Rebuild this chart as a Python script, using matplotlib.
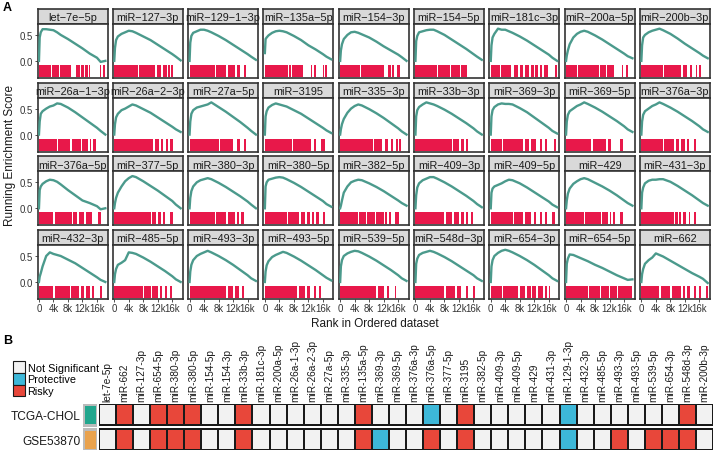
import matplotlib
matplotlib.use("Agg")
import matplotlib.pyplot as plt
import numpy as np
from matplotlib.colors import ListedColormap
from matplotlib.patches import Patch

plt.rcParams["font.family"] = ["Liberation Sans", "DejaVu Sans"]

# ---------------------------------------------------------------------------
# Data (panel A: running enrichment score + hit blocks, panel B: status)
# ---------------------------------------------------------------------------

panel_names = [
    "let-7e-5p", "miR-127-3p", "miR-129-1-3p", "miR-135a-5p", "miR-154-3p",
    "miR-154-5p", "miR-181c-3p", "miR-200a-5p", "miR-200b-3p",
    "miR-26a-1-3p", "miR-26a-2-3p", "miR-27a-5p", "miR-3195", "miR-335-3p",
    "miR-33b-3p", "miR-369-3p", "miR-369-5p", "miR-376a-3p",
    "miR-376a-5p", "miR-377-5p", "miR-380-3p", "miR-380-5p", "miR-382-5p",
    "miR-409-3p", "miR-409-5p", "miR-429", "miR-431-3p",
    "miR-432-3p", "miR-485-5p", "miR-493-3p", "miR-493-5p", "miR-539-5p",
    "miR-548d-3p", "miR-654-3p", "miR-654-5p", "miR-662",
]

# rank positions (thousands) where the running score was read
rank_k = [0, 0.2, 0.5, 1, 2, 3, 4, 5, 6, 8, 10, 12, 14, 16, 17, 18.3]

running_es = [
    [0, 0.45, 0.55, 0.61, 0.61, 0.60, 0.59, 0.55, 0.50, 0.42, 0.33, 0.24, 0.14, 0.06, -0.02, 0.0],
    [0, 0.25, 0.40, 0.47, 0.52, 0.55, 0.58, 0.57, 0.54, 0.47, 0.40, 0.31, 0.22, 0.13, 0.08, 0.01],
    [0, 0.35, 0.48, 0.54, 0.57, 0.60, 0.60, 0.58, 0.55, 0.48, 0.40, 0.31, 0.22, 0.13, 0.08, 0.02],
    [0.15, 0.42, 0.45, 0.49, 0.54, 0.57, 0.58, 0.57, 0.55, 0.48, 0.40, 0.30, 0.22, 0.13, 0.08, 0.03],
    [0, 0.20, 0.32, 0.42, 0.50, 0.55, 0.56, 0.54, 0.51, 0.45, 0.37, 0.28, 0.20, 0.12, 0.07, 0.0],
    [0, 0.38, 0.48, 0.55, 0.57, 0.59, 0.60, 0.60, 0.57, 0.50, 0.41, 0.32, 0.23, 0.13, 0.08, 0.02],
    [0, 0.30, 0.45, 0.52, 0.62, 0.60, 0.60, 0.57, 0.54, 0.47, 0.39, 0.30, 0.21, 0.12, 0.06, 0.0],
    [0, 0.10, 0.20, 0.32, 0.45, 0.52, 0.56, 0.58, 0.56, 0.49, 0.41, 0.32, 0.23, 0.14, 0.09, 0.05],
    [0, 0.30, 0.45, 0.50, 0.55, 0.58, 0.60, 0.62, 0.59, 0.52, 0.43, 0.33, 0.24, 0.15, 0.10, 0.05],
    [0, 0.25, 0.40, 0.45, 0.50, 0.54, 0.56, 0.60, 0.59, 0.52, 0.43, 0.33, 0.23, 0.13, 0.07, 0.0],
    [0, 0.20, 0.33, 0.40, 0.47, 0.50, 0.54, 0.58, 0.56, 0.49, 0.42, 0.33, 0.24, 0.15, 0.10, 0.05],
    [0, 0.25, 0.40, 0.47, 0.52, 0.54, 0.56, 0.58, 0.62, 0.53, 0.44, 0.34, 0.24, 0.13, 0.07, 0.0],
    [0, 0.35, 0.45, 0.52, 0.57, 0.60, 0.58, 0.56, 0.54, 0.47, 0.40, 0.31, 0.22, 0.13, 0.08, 0.03],
    [0, 0.10, 0.20, 0.30, 0.42, 0.50, 0.55, 0.58, 0.56, 0.49, 0.41, 0.32, 0.22, 0.12, 0.06, 0.0],
    [0, 0.35, 0.47, 0.53, 0.58, 0.62, 0.60, 0.58, 0.55, 0.48, 0.40, 0.31, 0.22, 0.12, 0.06, 0.0],
    [0, 0.35, 0.47, 0.53, 0.58, 0.60, 0.59, 0.59, 0.58, 0.51, 0.43, 0.33, 0.23, 0.13, 0.07, 0.02],
    [0, 0.25, 0.38, 0.45, 0.50, 0.55, 0.58, 0.62, 0.59, 0.52, 0.44, 0.35, 0.26, 0.16, 0.10, 0.05],
    [0, 0.25, 0.38, 0.45, 0.50, 0.55, 0.58, 0.62, 0.59, 0.52, 0.44, 0.35, 0.26, 0.16, 0.10, 0.05],
    [0, 0.35, 0.42, 0.47, 0.52, 0.55, 0.54, 0.51, 0.46, 0.35, 0.25, 0.15, 0.10, 0.04, -0.02, 0.0],
    [0, 0.10, 0.20, 0.30, 0.42, 0.52, 0.58, 0.62, 0.60, 0.52, 0.43, 0.34, 0.24, 0.14, 0.07, 0.0],
    [0, 0.20, 0.33, 0.42, 0.50, 0.54, 0.56, 0.58, 0.56, 0.49, 0.41, 0.32, 0.23, 0.13, 0.07, 0.0],
    [0, 0.42, 0.50, 0.55, 0.57, 0.59, 0.60, 0.59, 0.56, 0.49, 0.41, 0.32, 0.23, 0.14, 0.08, 0.03],
    [0, 0.05, 0.15, 0.30, 0.42, 0.50, 0.53, 0.55, 0.54, 0.48, 0.41, 0.33, 0.24, 0.15, 0.10, 0.05],
    [0, 0.25, 0.40, 0.48, 0.54, 0.57, 0.60, 0.60, 0.57, 0.50, 0.42, 0.33, 0.24, 0.14, 0.08, 0.02],
    [0, 0.30, 0.38, 0.42, 0.45, 0.48, 0.52, 0.55, 0.54, 0.48, 0.40, 0.31, 0.22, 0.13, 0.07, 0.02],
    [0, 0.15, 0.28, 0.38, 0.47, 0.52, 0.56, 0.58, 0.56, 0.49, 0.42, 0.34, 0.25, 0.15, 0.10, 0.05],
    [0, 0.30, 0.40, 0.48, 0.53, 0.55, 0.55, 0.56, 0.56, 0.51, 0.43, 0.34, 0.25, 0.15, 0.10, 0.05],
    [0, 0.10, 0.17, 0.30, 0.50, 0.57, 0.54, 0.52, 0.50, 0.43, 0.36, 0.27, 0.18, 0.09, 0.04, 0.0],
    [0, 0.15, 0.25, 0.33, 0.37, 0.42, 0.57, 0.56, 0.54, 0.47, 0.39, 0.30, 0.21, 0.11, 0.05, 0.0],
    [0, 0.20, 0.33, 0.42, 0.50, 0.54, 0.57, 0.60, 0.57, 0.50, 0.42, 0.33, 0.23, 0.13, 0.07, 0.02],
    [0, 0.20, 0.32, 0.40, 0.48, 0.52, 0.55, 0.58, 0.56, 0.49, 0.41, 0.32, 0.23, 0.13, 0.08, 0.03],
    [0, 0.30, 0.42, 0.50, 0.55, 0.58, 0.60, 0.59, 0.56, 0.49, 0.41, 0.32, 0.23, 0.13, 0.07, 0.02],
    [0, 0.35, 0.45, 0.52, 0.56, 0.58, 0.60, 0.58, 0.55, 0.48, 0.40, 0.31, 0.22, 0.13, 0.07, 0.02],
    [0, 0.30, 0.42, 0.50, 0.56, 0.60, 0.62, 0.60, 0.57, 0.50, 0.42, 0.33, 0.23, 0.13, 0.07, 0.02],
    [0, 0.35, 0.45, 0.53, 0.52, 0.49, 0.46, 0.43, 0.40, 0.33, 0.27, 0.20, 0.13, 0.07, 0.04, 0.05],
    [0, 0.15, 0.25, 0.35, 0.42, 0.47, 0.55, 0.52, 0.49, 0.41, 0.33, 0.25, 0.17, 0.10, 0.06, -0.02],
]

# hit blocks along the ranked list, (start, end) in thousands
hit_blocks = [
    [(0, 3.3), (3.5, 5.6), (5.8, 6.5), (6.7, 8.8), (10.1, 11.2), (11.5, 12.5), (12.8, 13.5), (13.8, 14.2), (16.7, 17.2), (17.6, 18.3)],
    [(0, 6.5), (6.7, 11.3), (11.8, 13.0), (13.4, 14.5), (14.9, 15.3), (15.7, 16.2)],
    [(0, 7.0), (7.2, 10.0), (10.5, 12.5), (13.0, 14.0), (15.0, 15.5)],
    [(0, 6.4), (6.7, 7.1), (7.4, 10.6), (12.6, 13.0), (13.6, 14.0), (15.9, 16.3), (16.6, 17.0)],
    [(0, 5.5), (5.8, 12.2), (13.3, 13.9), (14.3, 14.8), (15.7, 16.6)],
    [(0, 6.0), (6.3, 9.5), (9.9, 12.3), (12.6, 14.3)],
    [(0, 2.5), (2.8, 5.5), (6.5, 7.5), (8.0, 9.0), (9.5, 10.5), (11.0, 12.0), (12.3, 13.0), (13.5, 14.2), (14.8, 15.7), (17.8, 18.3)],
    [(0, 3.0), (3.3, 9.0), (9.3, 11.0), (11.4, 13.2), (15.3, 15.7), (16.6, 17.0)],
    [(0, 6.0), (6.3, 10.8), (11.5, 12.5), (13.5, 14.0), (15.0, 15.4), (16.0, 16.4)],
    [(0, 5.0), (5.3, 8.5), (9.0, 11.5), (12.0, 13.5), (14.0, 14.4), (15.0, 15.6)],
    [(0, 10.6), (11.3, 12.3), (13.0, 13.5), (14.3, 14.7), (15.5, 16.2)],
    [(0, 8.0), (8.5, 12.0), (13.0, 14.0), (15.0, 15.5)],
    [(0, 7.5), (7.8, 12.8), (13.5, 14.0), (15.5, 16.5)],
    [(0, 9.0), (9.3, 11.5), (12.5, 13.2), (14.0, 14.5), (15.5, 16.0), (16.3, 16.8)],
    [(0, 10.0), (10.3, 12.0), (12.5, 13.5), (14.0, 14.5)],
    [(0, 3.0), (3.3, 9.0), (9.5, 10.5), (11.0, 12.5), (13.5, 14.0), (15.0, 15.5), (17.5, 18.0)],
    [(0, 7.0), (7.3, 11.0), (11.5, 12.3), (15.0, 15.6)],
    [(0, 6.0), (6.3, 9.0), (9.5, 10.5), (11.0, 12.0), (12.5, 13.0), (14.5, 15.0)],
    [(0, 4.0), (4.5, 9.0), (9.5, 10.5), (11.0, 12.5), (13.0, 14.5), (16.3, 17.0)],
    [(0, 10.0), (10.3, 11.5), (12.0, 13.0), (13.5, 14.0), (15.5, 16.2)],
    [(0, 7.0), (7.3, 10.0), (10.5, 12.5), (13.0, 13.5), (14.3, 15.0)],
    [(0, 6.0), (6.4, 9.5), (10.0, 11.0), (11.5, 12.5), (13.0, 13.6), (14.0, 14.8), (16.0, 16.5)],
    [(0, 5.0), (5.3, 7.0), (7.3, 9.5), (10.0, 12.0), (12.5, 13.0), (13.5, 14.0), (15.0, 16.2)],
    [(0, 8.0), (8.3, 10.0), (10.5, 12.0), (12.5, 13.3), (14.0, 14.5), (15.3, 16.0)],
    [(0, 6.0), (6.3, 9.0), (9.5, 11.0), (12.0, 12.5), (13.5, 14.0), (15.0, 15.5), (17.0, 17.6)],
    [(0, 5.0), (5.3, 9.5), (10.0, 11.5), (12.0, 12.5), (13.0, 13.5), (15.0, 15.6)],
    [(0, 9.0), (9.3, 10.0), (10.5, 11.0), (11.5, 12.3), (13.0, 13.5), (14.5, 15.0)],
    [(0, 4.0), (4.3, 8.5), (8.8, 11.0), (11.5, 12.5), (13.0, 14.0), (14.5, 15.1), (16.8, 17.3)],
    [(0, 8.0), (8.3, 10.0), (10.5, 12.0), (12.5, 13.3), (14.0, 14.5), (15.3, 15.8)],
    [(0, 10.0), (10.5, 12.0), (12.5, 13.5), (14.5, 15.0)],
    [(0, 9.0), (9.5, 11.0), (11.5, 12.5), (13.5, 14.0), (15.0, 15.5)],
    [(0, 10.0), (10.5, 12.0), (13.0, 13.5), (15.0, 15.5)],
    [(0, 8.0), (8.5, 11.0), (11.5, 12.5), (14.0, 14.5), (16.0, 16.5)],
    [(0, 3.0), (3.3, 7.5), (8.0, 9.5), (10.0, 11.0), (11.5, 12.5), (13.0, 14.4), (15.0, 15.5), (16.0, 16.3)],
    [(0, 6.0), (6.4, 9.3), (9.6, 11.8), (12.0, 14.0), (14.3, 18.3)],
    [(0, 5.0), (5.3, 8.0), (8.5, 11.0), (11.5, 12.0), (12.5, 13.3), (14.5, 15.0), (16.0, 16.5), (17.8, 18.3)],
]

heat_mirs = [
    "let-7e-5p", "miR-662", "miR-127-3p", "miR-654-5p", "miR-380-3p", "miR-380-5p",
    "miR-154-5p", "miR-154-3p", "miR-33b-3p", "miR-181c-3p", "miR-200a-5p",
    "miR-26a-1-3p", "miR-26a-2-3p", "miR-27a-5p", "miR-335-3p", "miR-135a-5p",
    "miR-369-3p", "miR-369-5p", "miR-376a-3p", "miR-376a-5p", "miR-377-5p",
    "miR-3195", "miR-382-5p", "miR-409-3p", "miR-409-5p", "miR-429", "miR-431-3p",
    "miR-129-1-3p", "miR-432-3p", "miR-485-5p", "miR-493-3p", "miR-493-5p",
    "miR-539-5p", "miR-654-3p", "miR-548d-3p", "miR-200b-3p",
]
cohorts = ["TCGA-CHOL", "GSE53870"]
status_levels = ["Not Significant", "Protective", "Risky"]
# 0 = Not Significant, 1 = Protective, 2 = Risky
tcga_status = [0, 2, 0, 2, 2, 2, 0, 0, 2, 0, 0, 0, 0, 0, 0, 2, 0, 0,
               0, 1, 0, 2, 0, 0, 0, 0, 0, 1, 0, 0, 0, 0, 0, 0, 2, 0]
gse_status = [0, 2, 0, 2, 2, 2, 0, 0, 2, 0, 0, 0, 0, 0, 0, 2, 1, 0,
              0, 2, 0, 2, 0, 0, 0, 0, 0, 1, 0, 0, 2, 0, 2, 2, 2, 0]

# ---------------------------------------------------------------------------
# Style
# ---------------------------------------------------------------------------

W, H = 715, 452
CURVE = "#4B9A8C"
RUG = "#E8184A"
FRAME = "#333333"
STRIP_BG = "#D9D9D9"
STATUS_COLORS = ["#F2F2F2", "#3DB8D9", "#E8473A"]
COHORT_COLORS = ["#21A68D", "#E9A24D"]

fig = plt.figure(figsize=(W / 100, H / 100), dpi=100)


def px_axes(x0, y0, w, h):
    """Add axes using pixel coords measured from the top-left corner."""
    return fig.add_axes([x0 / W, 1 - (y0 + h) / H, w / W, h / H])


# ---------------------------------------------------------------------------
# Panel A: GSEA facets
# ---------------------------------------------------------------------------

col_x0, col_step, panel_w = 37.5, 75.3, 70
row_y0, row_step, strip_h, plot_h = 10, 73.7, 15, 54

for i, name in enumerate(panel_names):
    r, c = divmod(i, 9)
    x0 = col_x0 + c * col_step
    y0 = row_y0 + r * row_step

    strip = px_axes(x0, y0, panel_w, strip_h)
    strip.set_facecolor(STRIP_BG)
    strip.set_xticks([])
    strip.set_yticks([])
    for s in strip.spines.values():
        s.set_color(FRAME)
        s.set_linewidth(1.2)
    strip.text(0.5, 0.45, name.replace("-", "\u2212"), ha="center", va="center",
               fontsize=7.8, color="#1a1a1a", transform=strip.transAxes,
               clip_on=False)

    ax = px_axes(x0, y0 + strip_h, panel_w, plot_h)
    xs = [k * 1000 for k in rank_k]
    ax.plot(xs, running_es[i], color=CURVE, linewidth=1.7, zorder=3)
    ax.broken_barh([(a * 1000, (b - a) * 1000) for a, b in hit_blocks[i]],
                   (-0.31, 0.23), facecolors=RUG, edgecolor="none", zorder=2)
    ax.set_xlim(-400, 18900)
    ax.set_ylim(-0.33, 0.71)
    ax.set_yticks([0.0, 0.5])
    ax.set_xticks([0, 4000, 8000, 12000, 16000])
    ax.tick_params(length=2, width=0.6, color=FRAME, labelsize=6.9, pad=1,
                   labelcolor="#333333")
    if c == 0:
        ax.set_yticklabels(["0.0", "0.5"])
    else:
        ax.set_yticklabels([])
        ax.tick_params(axis="y", length=0)
    if r == 3:
        ax.set_xticklabels(["0", "4k", "8k", "12k", "16k"])
    else:
        ax.set_xticklabels([])
        ax.tick_params(axis="x", length=0)
    for s in ax.spines.values():
        s.set_color(FRAME)
        s.set_linewidth(1.2)

fig.text(10 / W, 1 - 155 / H, "Running Enrichment Score", rotation=90,
         ha="center", va="center", fontsize=8.5, color="#1a1a1a")
fig.text(375 / W, 1 - 324 / H, "Rank in Ordered dataset",
         ha="center", va="center", fontsize=8.5, color="#1a1a1a")
fig.text(3 / W, 1 - 8 / H, "A", fontsize=9, fontweight="bold", va="center")
fig.text(3 / W, 1 - 341 / H, "B", fontsize=9, fontweight="bold", va="center")

# ---------------------------------------------------------------------------
# Panel B: status heatmap (two rows with a small gap)
# ---------------------------------------------------------------------------

col_edges = np.arange(len(heat_mirs) + 1)
row_tops = [0, 1.2]
row_data = [tcga_status, gse_status]

hm = px_axes(99, 405, 614, 46)
ann = px_axes(83, 405, 14, 46)
for top, vals, k in zip(row_tops, row_data, range(len(cohorts))):
    hm.pcolormesh(col_edges, [top, top + 1], np.array([vals]),
                  cmap=ListedColormap(STATUS_COLORS), vmin=-0.5, vmax=2.5,
                  edgecolors="#1a1a1a", linewidth=1.1)
    ann.pcolormesh([0, 1], [top, top + 1], np.array([[k]]),
                   cmap=ListedColormap(COHORT_COLORS), vmin=-0.5, vmax=1.5,
                   edgecolors="#bbbbbb", linewidth=0.8)

hm.set_xlim(0, len(heat_mirs))
hm.set_ylim(2.2, 0)
hm.xaxis.tick_top()
hm.set_xticks(col_edges[:-1] + 0.5)
hm.set_xticklabels(heat_mirs, rotation=90, fontsize=7.3, color="#1a1a1a")
hm.set_yticks([])
hm.tick_params(length=0, pad=2)
for s in hm.spines.values():
    s.set_visible(False)

ann.set_xlim(0, 1)
ann.set_ylim(2.2, 0)
ann.set_xticks([])
ann.set_yticks([t + 0.5 for t in row_tops])
ann.set_yticklabels(cohorts, fontsize=8.6, color="#1a1a1a")
ann.tick_params(length=0, pad=2)
for s in ann.spines.values():
    s.set_visible(False)

handles = [Patch(facecolor=col, edgecolor="#1a1a1a", linewidth=0.8)
           for col in STATUS_COLORS]
fig.legend(handles, status_levels, loc="upper left",
           bbox_to_anchor=(13 / W, 1 - 362 / H), frameon=False, fontsize=7.8,
           handlelength=1.15, handleheight=1.3, labelspacing=0.0,
           handletextpad=0.2, borderpad=0, borderaxespad=0)

fig.savefig("out.png", dpi=100)
